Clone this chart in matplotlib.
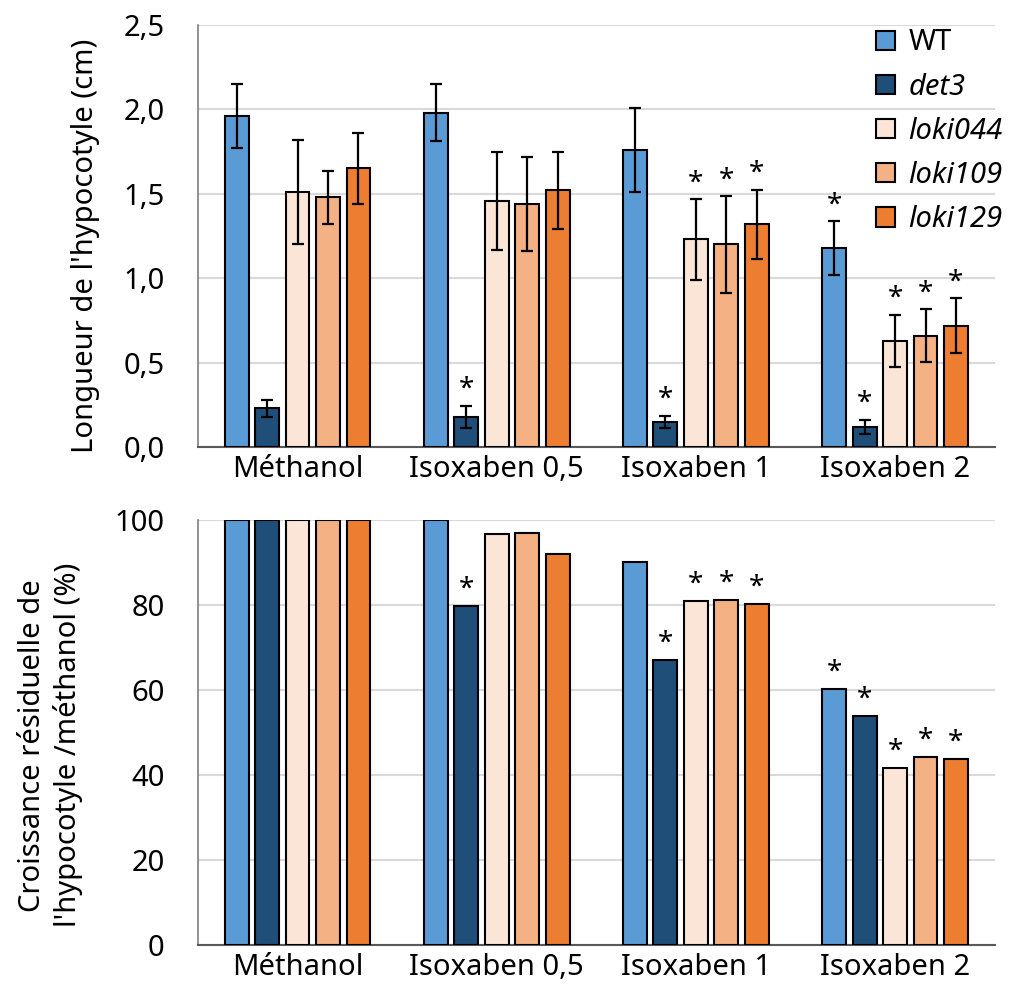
import numpy as np
import matplotlib
matplotlib.use("Agg")
import matplotlib.pyplot as plt
from matplotlib.patches import Patch
from matplotlib.ticker import FuncFormatter

plt.rcParams['font.family'] = ['Noto Sans', 'DejaVu Sans']

# Données
traitements = ['Méthanol', 'Isoxaben 0,5', 'Isoxaben 1', 'Isoxaben 2']
lignees = ['WT', 'det3', 'loki044', 'loki109', 'loki129']
couleurs = ['#5B9BD5', '#1F4E79', '#FBE5D6', '#F4B183', '#ED7D31']

# longueur (cm), une liste par lignée (Méthanol, Iso 0,5, Iso 1, Iso 2)
longueur_WT = [1.96, 1.98, 1.76, 1.18]
longueur_det3 = [0.23, 0.18, 0.15, 0.12]
longueur_loki044 = [1.51, 1.46, 1.23, 0.63]
longueur_loki109 = [1.48, 1.44, 1.20, 0.66]
longueur_loki129 = [1.65, 1.52, 1.32, 0.72]

erreur_WT = [0.19, 0.17, 0.25, 0.16]
erreur_det3 = [0.05, 0.065, 0.036, 0.042]
erreur_loki044 = [0.31, 0.29, 0.24, 0.155]
erreur_loki109 = [0.156, 0.28, 0.285, 0.155]
erreur_loki129 = [0.21, 0.23, 0.205, 0.162]

# croissance résiduelle (%)
residuel_WT = [100, 100, 90.0, 60.3]
residuel_det3 = [100, 79.8, 67.1, 53.9]
residuel_loki044 = [100, 96.7, 81.0, 41.6]
residuel_loki109 = [100, 96.9, 81.2, 44.2]
residuel_loki129 = [100, 92.0, 80.3, 43.8]

# étoiles (significativité)
etoiles_haut = [[0, 0, 0, 1], [0, 1, 1, 1], [0, 0, 1, 1], [0, 0, 1, 1], [0, 0, 1, 1]]
etoiles_bas = [[0, 0, 0, 1], [0, 1, 1, 1], [0, 0, 1, 1], [0, 0, 1, 1], [0, 0, 1, 1]]

longueurs = [longueur_WT, longueur_det3, longueur_loki044, longueur_loki109, longueur_loki129]
erreurs = [erreur_WT, erreur_det3, erreur_loki044, erreur_loki109, erreur_loki129]
residuels = [residuel_WT, residuel_det3, residuel_loki044, residuel_loki109, residuel_loki129]

fig = plt.figure(figsize=(10.11, 9.98), dpi=100)
ax1 = fig.add_axes([0.1958, 0.552, 0.788, 0.423])
ax2 = fig.add_axes([0.1958, 0.0531, 0.788, 0.426])

x = np.arange(len(traitements))
pas = 0.153
largeur = 0.12
fs = 21

for i in range(len(lignees)):
    pos = x + (i - 2) * pas
    ax1.bar(pos, longueurs[i], largeur, color=couleurs[i], edgecolor='black', linewidth=1.5, zorder=3)
    ax1.errorbar(pos, longueurs[i], yerr=erreurs[i], fmt='none', ecolor='black',
                 elinewidth=1.6, capsize=4.5, capthick=1.6, zorder=4)
    ax2.bar(pos, residuels[i], largeur, color=couleurs[i], edgecolor='black', linewidth=1.5, zorder=3)
    for j in range(len(traitements)):
        if etoiles_haut[i][j]:
            ax1.text(pos[j], longueurs[i][j] + erreurs[i][j] + 0.01, '*', ha='center', va='bottom', fontsize=20)
        if etoiles_bas[i][j]:
            ax2.text(pos[j], residuels[i][j] + 0.5, '*', ha='center', va='bottom', fontsize=20)

for ax in (ax1, ax2):
    ax.set_xlim(-0.5, 3.5)
    ax.set_xticks(x)
    ax.set_xticklabels(traitements, fontsize=fs)
    ax.tick_params(axis='x', length=0, labelsize=fs, pad=6)
    ax.tick_params(axis='y', length=0, labelsize=fs, pad=24)
    ax.grid(axis='y', color='#d9d9d9', linewidth=1.5, zorder=0)
    ax.set_axisbelow(True)
    for s in ['top', 'right']:
        ax.spines[s].set_visible(False)
    ax.spines['left'].set_color('#7f7f7f')
    ax.spines['bottom'].set_color('#595959')
    ax.spines['left'].set_linewidth(1.2)
    ax.spines['bottom'].set_linewidth(1.5)

ax1.set_ylim(0, 2.5)
ax1.set_yticks(np.arange(0, 2.51, 0.5))
ax1.yaxis.set_major_formatter(FuncFormatter(lambda v, p: f'{v:.1f}'.replace('.', ',')))
ax1.set_ylabel("Longueur de l'hypocotyle (cm)", fontsize=fs)
ax1.yaxis.set_label_coords(-0.123, 0.476)

ax2.set_ylim(0, 100)
ax2.set_yticks(np.arange(0, 101, 20))
ax2.set_ylabel("Croissance résiduelle de\nl'hypocotyle /méthanol (%)", fontsize=fs, linespacing=1.25)
ax2.yaxis.set_label_coords(-0.144, 0.47)

poignees = [Patch(facecolor=c, edgecolor='black', linewidth=1.5) for c in couleurs]
leg = ax1.legend(poignees, lignees, loc='upper left', bbox_to_anchor=(0.826, 1.04), frameon=False,
                 fontsize=fs, handlelength=0.65, handleheight=0.65, handletextpad=0.45,
                 labelspacing=0.52, borderaxespad=0.3)
for k, t in enumerate(leg.get_texts()):
    if k > 0:
        t.set_fontstyle('italic')

fig.savefig('out.png', dpi=100)
